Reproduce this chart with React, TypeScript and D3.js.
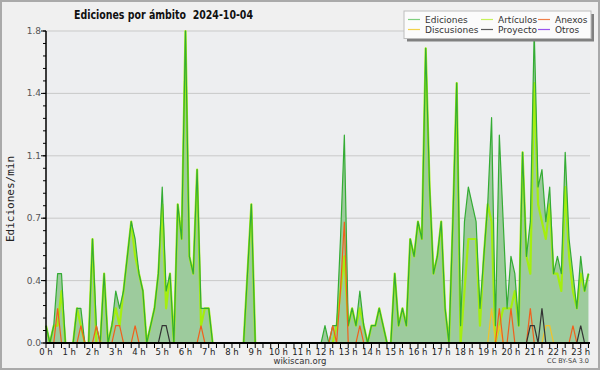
import React from 'react';
import * as d3 from 'd3';

// edits per minute, one value every 10 minutes (0:00 .. 23:20)
const ediciones = [
  0.1, 0, 0.1, 0.4, 0.4, 0,
  0, 0, 0.2, 0.2, 0, 0,
  0.6, 0.1, 0, 0.4, 0, 0.1,
  0.3, 0.2, 0.3, 0.5, 0.7, 0.6,
  0.4, 0.3, 0, 0.1, 0.2, 0.4,
  0.9, 0.3, 0.4, 0, 0.8, 0.6,
  1.8, 0.5, 0.4, 1.0, 0.2, 0.2,
  0.2, 0, 0, 0, 0, 0,
  0, 0, 0, 0, 0.4, 0.8,
  0, 0, 0, 0, 0, 0,
  0, 0, 0, 0, 0, 0,
  0, 0, 0, 0, 0, 0,
  0.1, 0, 0.1, 0.1, 0.6, 1.2,
  0.1, 0.2, 0.1, 0.3, 0.1, 0,
  0.1, 0.1, 0.2, 0.1, 0, 0,
  0.4, 0.1, 0.2, 0.1, 0.6, 0.5,
  0.7, 0.6, 1.7, 0.9, 0.4, 0.5,
  0.7, 0.2, 0, 0.7, 1.5, 0.1,
  0.7, 0.9, 0.8, 0.7, 0.2, 0.5,
  0.8, 1.3, 0.1, 1.2, 0.7, 0.2,
  0.5, 0.4, 0.1, 1.1, 0.5, 0.7,
  1.8, 0.9, 1.0, 0.7, 0.9, 0.4,
  0.5, 0.4, 1.1, 0.6, 0.4, 0.2,
  0.5, 0.3, 0.4,
];

const articulos = [
  0.1, 0, 0.1, 0.1, 0.3, 0,
  0, 0, 0.2, 0.1, 0, 0,
  0.6, 0, 0, 0.4, 0, 0.1,
  0.2, 0.1, 0.3, 0.5, 0.7, 0.5,
  0.4, 0.3, 0, 0.1, 0.2, 0.4,
  0.8, 0.2, 0.4, 0, 0.8, 0.6,
  1.8, 0.5, 0.4, 1.0, 0.1, 0.2,
  0.2, 0, 0, 0, 0, 0,
  0, 0, 0, 0, 0.4, 0.8,
  0, 0, 0, 0, 0, 0,
  0, 0, 0, 0, 0, 0,
  0, 0, 0, 0, 0, 0,
  0, 0, 0, 0.1, 0.3, 0.5,
  0.1, 0.2, 0.1, 0.2, 0.1, 0,
  0.1, 0.1, 0.2, 0.1, 0, 0,
  0.4, 0.1, 0.2, 0.1, 0.6, 0.5,
  0.7, 0.6, 1.7, 0.9, 0.4, 0.5,
  0.7, 0.2, 0, 0.7, 1.5, 0,
  0.3, 0.6, 0.6, 0.6, 0.1, 0.5,
  0.8, 0.7, 0, 0.1, 0.2, 0.2,
  0.2, 0.3, 0.1, 1.1, 0.5, 0.4,
  1.5, 0.8, 0.7, 0.6, 0.8, 0.4,
  0.4, 0.3, 0.9, 0.5, 0.3, 0.2,
  0.4, 0.3, 0.4,
];

const anexos = [
  0, 0, 0, 0.2, 0, 0,
  0, 0, 0, 0.1, 0, 0,
  0, 0.1, 0, 0, 0, 0,
  0.1, 0.1, 0, 0, 0, 0.1,
  0, 0, 0, 0, 0, 0,
  0, 0, 0, 0, 0, 0,
  0, 0, 0, 0, 0.1, 0,
  0, 0, 0, 0, 0, 0,
  0, 0, 0, 0, 0, 0,
  0, 0, 0, 0, 0, 0,
  0, 0, 0, 0, 0, 0,
  0, 0, 0, 0, 0, 0,
  0, 0, 0.1, 0, 0.3, 0.7,
  0, 0, 0, 0.1, 0, 0,
  0, 0, 0, 0, 0, 0,
  0, 0, 0, 0, 0, 0,
  0, 0, 0, 0, 0, 0,
  0, 0, 0, 0, 0, 0,
  0, 0, 0, 0, 0, 0,
  0, 0, 0, 0.2, 0, 0,
  0.2, 0, 0, 0, 0, 0.2,
  0, 0, 0, 0, 0, 0,
  0, 0, 0, 0, 0.1, 0,
  0, 0, 0,
];

const discusiones = [
  0, 0, 0, 0, 0, 0,
  0, 0, 0, 0, 0, 0,
  0, 0, 0, 0, 0, 0,
  0, 0, 0, 0, 0, 0,
  0, 0, 0, 0, 0, 0,
  0, 0, 0, 0, 0, 0,
  0, 0, 0, 0, 0, 0,
  0, 0, 0, 0, 0, 0,
  0, 0, 0, 0, 0, 0,
  0, 0, 0, 0, 0, 0,
  0, 0, 0, 0, 0, 0,
  0, 0, 0, 0, 0, 0,
  0, 0, 0, 0, 0, 0,
  0, 0, 0, 0, 0, 0,
  0, 0, 0, 0, 0, 0,
  0, 0, 0, 0, 0, 0,
  0, 0, 0, 0, 0, 0,
  0, 0, 0, 0, 0, 0,
  0, 0, 0, 0, 0, 0,
  0, 0.2, 0, 0.1, 0, 0,
  0, 0, 0, 0, 0, 0,
  0, 0, 0, 0.1, 0.1, 0,
  0, 0, 0, 0, 0, 0,
  0, 0, 0,
];

const proyecto = [
  0, 0, 0, 0, 0, 0,
  0, 0, 0, 0, 0, 0,
  0, 0, 0, 0, 0, 0,
  0, 0, 0, 0, 0, 0,
  0, 0, 0, 0, 0, 0,
  0.1, 0.1, 0, 0, 0, 0,
  0, 0, 0, 0, 0, 0,
  0, 0, 0, 0, 0, 0,
  0, 0, 0, 0, 0, 0,
  0, 0, 0, 0, 0, 0,
  0, 0, 0, 0, 0, 0,
  0, 0, 0, 0, 0, 0,
  0, 0, 0, 0, 0, 0,
  0, 0, 0, 0, 0, 0,
  0, 0, 0, 0, 0, 0,
  0, 0, 0, 0, 0, 0,
  0, 0, 0, 0, 0, 0,
  0, 0, 0, 0, 0, 0,
  0, 0, 0, 0, 0, 0,
  0, 0, 0, 0, 0, 0,
  0, 0, 0, 0, 0, 0.1,
  0.1, 0, 0.2, 0, 0, 0,
  0, 0, 0, 0, 0, 0,
  0.1, 0, 0,
];

const otros = ediciones.map(() => 0);

const yTickValues = [0, 0.36, 0.72, 1.08, 1.44, 1.8];
const yTickLabels = ['0.0', '0.4', '0.7', '1.1', '1.4', '1.8'];
const hours = d3.range(24);

const legendItems = [
  { name: 'Ediciones', color: '#7fcf7f', col: 0, row: 0 },
  { name: 'Artículos', color: '#c6f25a', col: 1, row: 0 },
  { name: 'Anexos', color: '#f0804a', col: 2, row: 0 },
  { name: 'Discusiones', color: '#f2d24a', col: 0, row: 1 },
  { name: 'Proyecto', color: '#5a5a5a', col: 1, row: 1 },
  { name: 'Otros', color: '#9a55ee', col: 2, row: 1 },
];

const W = 600;
const H = 370;
const left = 46, right = 590, top = 31, bottom = 343;

export default function App() {
  const x = d3.scaleLinear().domain([0, 23.4]).range([left, right]);
  const y = d3.scaleLinear().domain([0, 1.8]).range([bottom, top]);

  const line = d3.line<number>().x((_, i) => x(i / 6)).y((d) => y(d));
  const area = d3.area<number>().x((_, i) => x(i / 6)).y0(y(0)).y1((d) => y(d));

  const minorY = d3.range(0, 1.8001, 0.072);
  const xTicks = d3.range(0, 23.4, 1 / 3);
  const legCols = [408, 481, 538];
  const legRows = [19.5, 29.5];

  return (
    <svg width={W} height={H} style={{ position: 'absolute', left: 0, top: 0 }}
      fontFamily="'DejaVu Sans', sans-serif">
      <rect x={1} y={1} width={W - 2} height={H - 2} fill="#f0f0f0" stroke="#aaaaaa" strokeWidth={2} />
      <rect x={left} y={top} width={right - left} height={bottom - top} fill="#edeef0" />

      {yTickValues.slice(1).map((v) => (
        <line key={v} x1={left} x2={right} y1={y(v)} y2={y(v)} stroke="#c9c9c9" strokeWidth={1} />
      ))}

      <path d={area(ediciones)!} fill="#9dcb9d" />
      <path d={line(articulos)!} fill="none" stroke="#a4ee10" strokeWidth={2.2} strokeLinejoin="round" />
      <path d={line(ediciones)!} fill="none" stroke="#34ac34" strokeWidth={1.2} strokeLinejoin="round" />
      <path d={line(discusiones)!} fill="none" stroke="#f2c22a" strokeWidth={1.2} />
      <path d={line(anexos)!} fill="none" stroke="#f0601c" strokeWidth={1.2} />
      <path d={line(proyecto)!} fill="none" stroke="#333333" strokeWidth={1.2} />
      <path d={line(otros)!} fill="none" stroke="#9933ff" strokeWidth={1.2} />

      {/* y axis */}
      <line x1={left} x2={left} y1={top} y2={bottom} stroke="#000" strokeWidth={1.5} />
      {minorY.map((v) => (
        <line key={v} x1={left - 3} x2={left} y1={y(v)} y2={y(v)} stroke="#000" />
      ))}
      {yTickValues.map((v, i) => (
        <g key={v}>
          <line x1={left - 5} x2={left} y1={y(v)} y2={y(v)} stroke="#000" />
          <text x={left - 5} y={y(v) + 3} fontSize={9} fill="#555" textAnchor="end">{yTickLabels[i]}</text>
        </g>
      ))}
      <text transform={`translate(14,${(top + bottom) / 2 + 12}) rotate(-90)`} fontFamily="'DejaVu Sans Mono', monospace"
        fontSize={11} textAnchor="middle" fill="#222">Ediciones/min</text>

      {/* x axis */}
      <line x1={left} x2={right} y1={bottom} y2={bottom} stroke="#000" strokeWidth={2} />
      {xTicks.map((h) => (
        <line key={h} x1={x(h)} x2={x(h)} y1={bottom} y2={bottom + 5} stroke="#000" />
      ))}
      {hours.map((h) => (
        <text key={h} x={x(h)} y={354.5} fontSize={8.5} textAnchor="middle" fill="#222">{`${h} h`}</text>
      ))}

      {/* title */}
      <text x={74} y={18.5} fontSize={12} fontWeight="bold" fill="#111" textLength={179}
        lengthAdjust="spacingAndGlyphs" style={{ whiteSpace: 'pre' }}>Ediciones por ámbito  2024-10-04</text>

      {/* legend */}
      <rect x={407} y={14} width={187} height={27.5} fill="#808080" />
      <rect x={404} y={11} width={187} height={27.5} fill="#fbfbfb" stroke="#bdbdbd" />
      {legendItems.map((it) => (
        <g key={it.name}>
          <line x1={legCols[it.col]} x2={legCols[it.col] + 12} y1={legRows[it.row]} y2={legRows[it.row]}
            stroke={it.color} strokeWidth={1.2} />
          <text x={legCols[it.col] + 17} y={legRows[it.row] + 3.5} fontSize={9} fill="#333">{it.name}</text>
        </g>
      ))}

      <text x={300} y={364} fontSize={8.5} textAnchor="middle" fill="#333">wikiscan.org</text>
      <text x={589} y={363} fontSize={6.5} textAnchor="end" fill="#444">CC BY-SA 3.0</text>
    </svg>
  );
}
